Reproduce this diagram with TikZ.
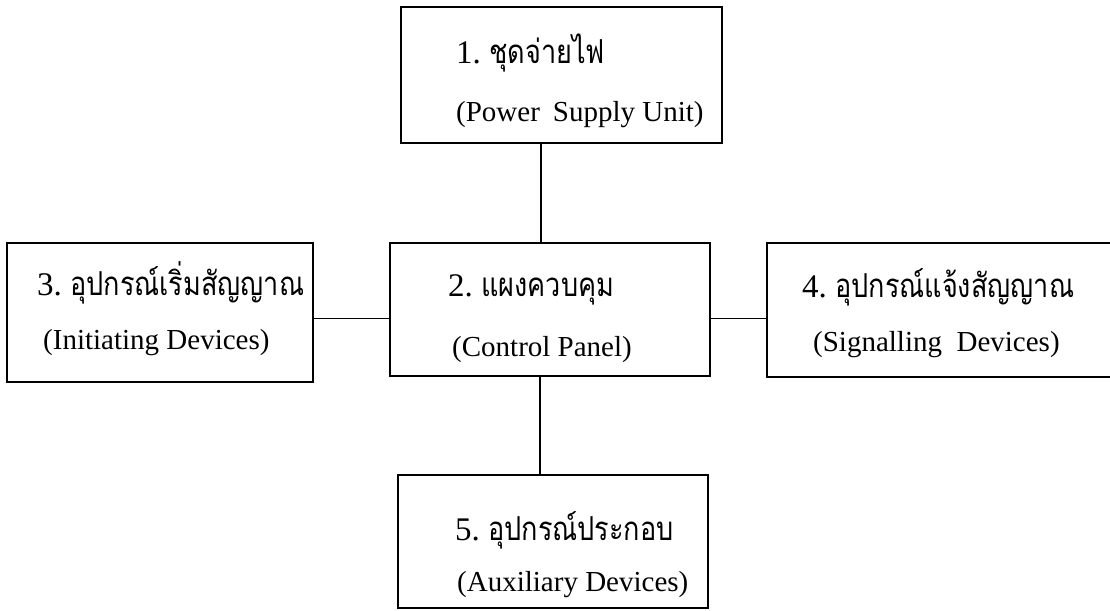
\documentclass[tikz,border=0pt]{standalone}
\usepackage{fontspec}
\setmainfont{Liberation Serif}
\newfontfamily\thaifont[Script=Thai,FakeStretch=0.82]{Loma}
\usepackage{tikz}

\begin{document}
\begin{tikzpicture}[x=1pt,y=-1pt]
	\tikzstyle{bx} = [draw,line width=1.5pt,inner sep=0pt];
	\tikzstyle{ln} = [draw,line width=1.4pt];
	\tikzstyle{th} = [anchor=west,inner sep=0pt,font=\fontsize{33}{40}\selectfont];
	\tikzstyle{en} = [anchor=west,inner sep=0pt,font=\fontsize{29}{35}\selectfont];
	\useasboundingbox [fill=white] (0,0) rectangle (1110,610);
	\node (psu) at (561.5,75) [bx,minimum width=321pt,minimum height=136pt] {};
	\node (panel) at (550,309.5) [bx,minimum width=320pt,minimum height=133pt] {};
	\node (init) at (160,312.5) [bx,minimum width=306pt,minimum height=139pt] {};
	\node (signal) at (946,310) [bx,minimum width=358pt,minimum height=134pt] {};
	\node (aux) at (553,541.5) [bx,minimum width=310pt,minimum height=133pt] {};
	\path [ln] ([xshift=-9pt]panel.north) -- ([xshift=-9pt]panel.north |- psu.south);
	\path [ln] ([xshift=-10pt]panel.south) -- ([xshift=-10pt]panel.south |- aux.north);
	\path [ln] ([yshift=-9pt]panel.west) -- ([yshift=-9pt]panel.west -| init.east);
	\path [ln] ([yshift=-9pt]panel.east) -- ([yshift=-9pt]panel.east -| signal.west);
	\node (psuTh) at (456,53) [th] {1.~{\thaifont ชุดจ่ายไฟ}};
	\node (psuEn) at (456,115) [en] {(Power\hspace{13pt}Supply Unit)};
	\node (panelTh) at (448,290) [th] {2.~{\thaifont แผงควบคุม}};
	\node (panelEn) at (452,350) [en] {(Control Panel)};
	\node (initTh) at (37,283) [th] {3.~{\thaifont อุปกรณ์เริ่มสัญญาณ}};
	\node (initEn) at (43,343) [en] {(Initiating Devices)};
	\node (signalTh) at (802,287) [th] {4.~{\thaifont อุปกรณ์แจ้งสัญญาณ}};
	\node (signalEn) at (813,345) [en] {(Signalling\ \ Devices)};
	\node (auxTh) at (455,530) [th] {5.~{\thaifont อุปกรณ์ประกอบ}};
	\node (auxEn) at (457,585) [en] {(Auxiliary Devices)};
\end{tikzpicture}
\end{document}
